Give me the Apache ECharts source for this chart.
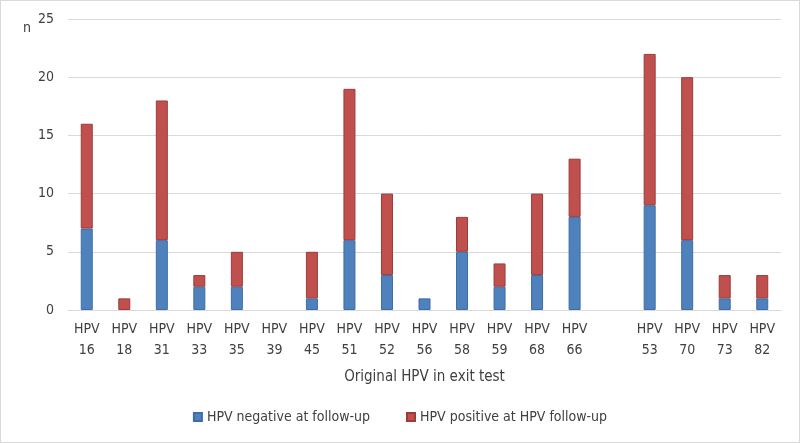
<!DOCTYPE html>
<html><head><meta charset="utf-8">
<script src="https://cdn.jsdelivr.net/npm/echarts@6/dist/echarts.min.js"></script>
<style>html,body{margin:0;padding:0;background:#fff}#c{width:800px;height:443px;box-sizing:border-box;border:1px solid #d9d9d9}</style>
</head><body><div id="c"></div>
<script>
const categories = ['HPV\n16','HPV\n18','HPV\n31','HPV\n33','HPV\n35','HPV\n39','HPV\n45','HPV\n51','HPV\n52','HPV\n56','HPV\n58','HPV\n59','HPV\n68','HPV\n66','','HPV\n53','HPV\n70','HPV\n73','HPV\n82'];
const negative = [7,0,6,2,2,0,1,6,3,1,5,2,3,8,'-',9,6,1,1];
const positive = [9,1,12,1,3,0,4,13,7,0,3,2,7,5,'-',13,14,2,2];
const yTicks = [0,5,10,15,20,25];
const hideZero = arr => arr.map(v => v === 0 ? '-' : v);
const font = "'Liberation Sans Narrow','DejaVu Sans Condensed','Liberation Sans',sans-serif";
const chart = echarts.init(document.getElementById('c'));
chart.setOption({
  animation:false,
  textStyle:{fontFamily:font},
  grid:{left:67,right:18,top:18,bottom:132},
  legend:{bottom:13,left:'center',icon:'rect',itemWidth:8,itemHeight:8,itemGap:36,
    textStyle:{fontFamily:font,fontSize:14,color:'#404040'}},
  graphic:[{type:'text',left:22,top:20,style:{text:'n',font:"14px "+font,fill:'#404040'}}],
  xAxis:{type:'category',data:categories,
    name:'Original HPV in exit test',nameLocation:'middle',nameGap:60,
    nameTextStyle:{fontFamily:font,fontSize:15,color:'#404040'},
    axisLine:{lineStyle:{color:'#d9d9d9'}},axisTick:{show:false},
    axisLabel:{interval:0,fontFamily:font,fontSize:14,color:'#404040',lineHeight:21,margin:9}},
  yAxis:{type:'value',min:yTicks[0],max:yTicks[yTicks.length-1],interval:5,
    axisLabel:{fontFamily:font,fontSize:14,color:'#404040',margin:14},
    splitLine:{lineStyle:{color:'#d9d9d9'}},axisLine:{show:false},axisTick:{show:false}},
  series:[
    {name:'HPV negative at follow-up',type:'bar',stack:'a',data:hideZero(negative),barWidth:12,
      itemStyle:{color:'#4f81bd',borderColor:'#3d6da6',borderWidth:1}},
    {name:'HPV positive at HPV follow-up',type:'bar',stack:'a',data:hideZero(positive),barWidth:12,
      itemStyle:{color:'#c0504d',borderColor:'#9c3b38',borderWidth:1}}
  ]
});
</script></body></html>
